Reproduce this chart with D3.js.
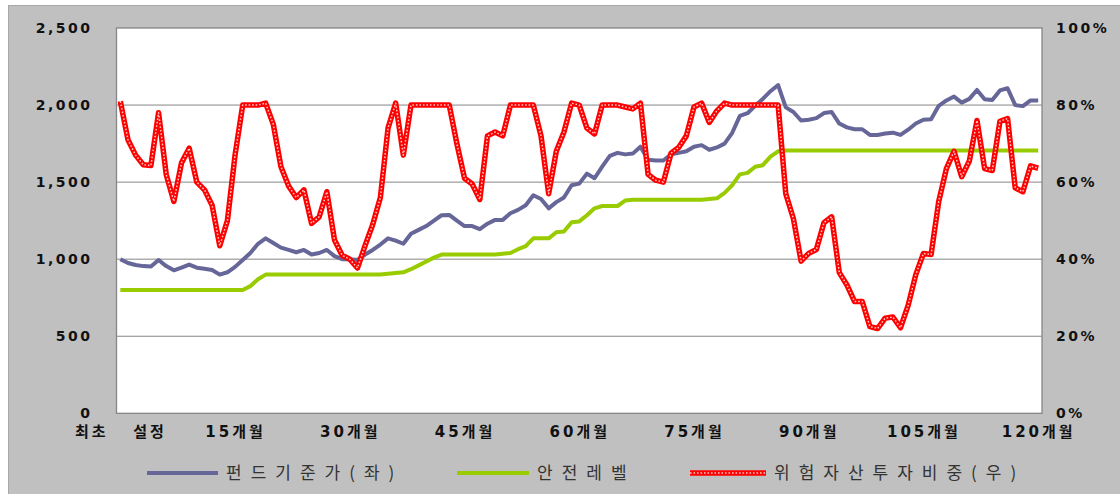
<!DOCTYPE html>
<html>
<head>
<meta charset="utf-8">
<script src="https://cdn.jsdelivr.net/npm/d3@7"></script>
<style>
    body { margin: 0; background: #fff; }
    svg text { font-family: "DejaVu Sans", "Noto Sans CJK KR", sans-serif; }
    .axis text { font-size: 14px; font-weight: bold; fill: #111; letter-spacing: 2.5px; }
    .x-axis text { font-size: 15px; letter-spacing: 3px; }
    .legend text { font-family: "Noto Sans CJK KR", sans-serif; font-size: 17px; fill: #333; letter-spacing: 9px; }
</style>
</head>
<body>
<div id="chart"></div>
<script>
// months since launch (0 = 최초 설정)
var months = d3.range(0, 121);

var monthTicks = [0, 15, 30, 45, 60, 75, 90, 105, 120];
var monthLabels = ['최초   설정', '15개월', '30개월', '45개월', '60개월', '75개월', '90개월', '105개월', '120개월'];

var leftTicks = [0, 500, 1000, 1500, 2000, 2500];
var rightTicks = [0, 0.2, 0.4, 0.6, 0.8, 1.0];

// 펀드기준가 (left axis)
var navValues = [
    1000, 975, 962, 955, 952, 995, 955, 928, 945, 965,
    945, 938, 930, 900, 915, 950, 995, 1040, 1100, 1135,
    1105, 1075, 1060, 1045, 1060, 1030, 1040, 1060, 1020, 1000,
    1000, 995, 1030, 1060, 1095, 1135, 1120, 1100, 1165, 1190,
    1215, 1250, 1285, 1287, 1250, 1215, 1215, 1195, 1230, 1255,
    1255, 1298, 1320, 1350, 1415, 1390, 1330, 1370, 1400, 1480,
    1490, 1555, 1525, 1600, 1670, 1690, 1680, 1685, 1730, 1645,
    1640, 1640, 1680, 1690, 1700, 1730, 1740, 1710, 1725, 1750,
    1820, 1930, 1947, 1995, 2040, 2090, 2130, 1985, 1955, 1900,
    1905, 1915, 1948, 1955, 1880, 1855, 1843, 1843, 1806, 1806,
    1815, 1821, 1806, 1840, 1880, 1905, 1908, 1995, 2030, 2055,
    2016, 2040, 2098, 2038, 2033, 2095, 2109, 2000, 1993, 2030,
    2029
];

// 안전레벨 (left axis)
var safetyLevel = [
    800, 800, 800, 800, 800, 800, 800, 800, 800, 800,
    800, 800, 800, 800, 800, 800, 800, 825, 870, 900,
    900, 900, 900, 900, 900, 900, 900, 900, 900, 900,
    900, 900, 900, 900, 900, 905, 910, 915, 935, 960,
    985, 1010, 1030, 1030, 1030, 1030, 1030, 1030, 1030, 1030,
    1035, 1040, 1065, 1085, 1135, 1135, 1135, 1175, 1180, 1240,
    1245, 1285, 1330, 1345, 1345, 1345, 1380, 1385, 1385, 1385,
    1385, 1385, 1385, 1385, 1385, 1385, 1385, 1390, 1395, 1430,
    1480, 1550, 1560, 1600, 1610, 1665, 1700, 1705, 1705, 1705,
    1705, 1705, 1705, 1705, 1705, 1705, 1705, 1705, 1705, 1705,
    1705, 1705, 1705, 1705, 1705, 1705, 1705, 1705, 1705, 1705,
    1705, 1705, 1705, 1705, 1705, 1705, 1705, 1705, 1705, 1705,
    1705
];

// 위험자산투자비중 (right axis, %)
var riskWeight = [
    81, 71, 67, 64.5, 64.3, 78, 62, 55, 65, 68.8,
    60, 58, 54, 43.5, 50, 67, 80, 80, 80, 80.5,
    75, 64, 59, 56, 58, 49.3, 51, 57.5, 45, 41,
    40, 37.7, 43.5, 49, 56, 74, 80.5, 67, 80, 80,
    80, 80, 80, 80, 70, 61, 59.5, 55.5, 72, 73,
    72, 80, 80, 80, 80, 72, 57, 68, 73, 80.5,
    80, 74, 72.5, 80, 80, 80, 79.5, 79, 80.5, 62,
    60.5, 60, 67.5, 69, 72, 79.5, 80.5, 75.5, 78.5, 80.5,
    80, 80, 80, 80, 80, 80, 80, 57, 50.5, 39.5,
    41.5, 42.5, 49.5, 51, 36.5, 33.3, 29, 29, 22.5, 22,
    24.7, 25, 22.2, 28, 36, 41.5, 41.2, 55, 63.5, 68,
    61.4, 65.5, 76, 63.5, 63, 75.8, 76.5, 58.5, 57.5, 64.2,
    63.6
];

var seriesNames = ['펀드기준가(좌)', '안전레벨', '위험자산투자비중(우)'];

var width = 1120, height = 494;
var plot = {left: 116.5, right: 1042, top: 28, bottom: 413.3};

var svg = d3.select("#chart")
    .append("svg")
    .attr("width", width)
    .attr("height", height);

// grey chart area
svg.append("rect")
    .attr("x", 8.5)
    .attr("y", 5.5)
    .attr("width", width)
    .attr("height", height)
    .attr("fill", "#c0c0c0")
    .attr("stroke", "#a8a8a8");

svg.append("rect")
    .attr("x", plot.left)
    .attr("y", plot.top)
    .attr("width", plot.right - plot.left)
    .attr("height", plot.bottom - plot.top)
    .attr("fill", "#fff");

var x = d3.scalePoint()
    .domain(months)
    .range([plot.left, plot.right])
    .padding(0.5);

var yLeft = d3.scaleLinear()
    .domain([0, 2500])
    .range([plot.bottom, plot.top]);

var yRight = d3.scaleLinear()
    .domain([0, 1])
    .range([plot.bottom, plot.top]);

// gridlines
svg.append("g")
    .selectAll("line")
    .data(leftTicks.slice(1, -1))
    .enter()
    .append("line")
    .attr("x1", plot.left)
    .attr("x2", plot.right)
    .attr("y1", function(d) { return yLeft(d); })
    .attr("y2", function(d) { return yLeft(d); })
    .attr("stroke", "#868686")
    .attr("stroke-width", 1);

svg.append("rect")
    .attr("x", plot.left)
    .attr("y", plot.top)
    .attr("width", plot.right - plot.left)
    .attr("height", plot.bottom - plot.top)
    .attr("fill", "none")
    .attr("stroke", "#868686")
    .attr("stroke-width", 1.3);

// axes
var leftAxis = svg.append("g")
    .attr("class", "axis")
    .attr("transform", "translate(" + plot.left + ",0)")
    .call(d3.axisLeft(yLeft).tickValues(leftTicks).tickFormat(d3.format(",")).tickSize(0).tickPadding(24));

var rightAxis = svg.append("g")
    .attr("class", "axis")
    .attr("transform", "translate(" + plot.right + ",0)")
    .call(d3.axisRight(yRight).tickValues(rightTicks).tickFormat(d3.format(".0%")).tickSize(0).tickPadding(14));

var bottomAxis = svg.append("g")
    .attr("class", "axis x-axis")
    .attr("transform", "translate(0," + plot.bottom + ")")
    .call(d3.axisBottom(x).tickValues(monthTicks)
        .tickFormat(function(d) { return monthLabels[monthTicks.indexOf(d)]; })
        .tickSize(0).tickPadding(13));

svg.selectAll(".axis .domain").remove();
svg.selectAll(".axis text").attr("fill", "#111");
bottomAxis.selectAll("text").style("white-space", "pre");

// lines
var navLine = d3.line()
    .x(function(d, i) { return x(months[i]); })
    .y(function(d) { return yLeft(d); });

var riskLine = d3.line()
    .x(function(d, i) { return x(months[i]); })
    .y(function(d) { return yRight(d / 100); });

svg.append("path")
    .datum(navValues)
    .attr("d", navLine)
    .attr("fill", "none")
    .attr("stroke", "#666699")
    .attr("stroke-width", 4)
    .attr("stroke-linejoin", "round");

svg.append("path")
    .datum(safetyLevel)
    .attr("d", navLine)
    .attr("fill", "none")
    .attr("stroke", "#99cc00")
    .attr("stroke-width", 4)
    .attr("stroke-linejoin", "round");

svg.append("path")
    .datum(riskWeight)
    .attr("d", riskLine)
    .attr("fill", "none")
    .attr("stroke", "#ff0000")
    .attr("stroke-width", 5.5)
    .attr("stroke-linejoin", "round");

// dotted inner pattern of the red series
svg.append("path")
    .datum(riskWeight)
    .attr("d", riskLine)
    .attr("fill", "none")
    .attr("stroke", "#ffc8c8")
    .attr("stroke-width", 1.5)
    .attr("stroke-dasharray", "1.6 1.9")
    .attr("stroke-linejoin", "round");

// legend
var legendItems = [
    {name: seriesNames[0], color: "#666699", x1: 147, x2: 218, w: 4, dotted: false},
    {name: seriesNames[1], color: "#99cc00", x1: 457, x2: 529, w: 4, dotted: false},
    {name: seriesNames[2], color: "#ff0000", x1: 690, x2: 766, w: 5.5, dotted: true}
];

var legend = svg.append("g")
    .attr("class", "legend")
    .selectAll("g")
    .data(legendItems)
    .enter()
    .append("g");

legend.append("line")
    .attr("x1", function(d) { return d.x1; })
    .attr("x2", function(d) { return d.x2; })
    .attr("y1", 473)
    .attr("y2", 473)
    .attr("stroke", function(d) { return d.color; })
    .attr("stroke-width", function(d) { return d.w; });

legend.filter(function(d) { return d.dotted; })
    .append("line")
    .attr("x1", function(d) { return d.x1; })
    .attr("x2", function(d) { return d.x2; })
    .attr("y1", 473)
    .attr("y2", 473)
    .attr("stroke", "#ffc8c8")
    .attr("stroke-width", 1.5)
    .attr("stroke-dasharray", "1.6 1.9");

legend.append("text")
    .attr("x", function(d) { return d.x2 + 8; })
    .attr("y", 473)
    .attr("dy", "0.36em")
    .text(function(d) { return d.name; });
</script>
</body>
</html>
